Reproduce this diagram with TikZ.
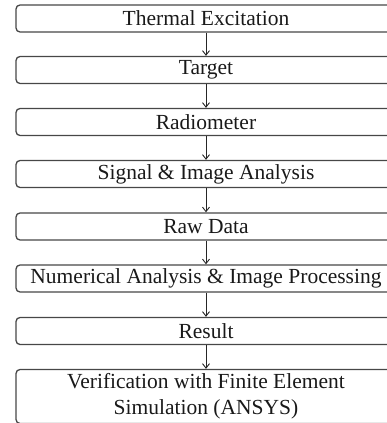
\documentclass[tikz,border=0pt]{standalone}
\usepackage{fontspec}
\setmainfont{Liberation Serif}
\usetikzlibrary{arrows.meta}

\tikzset{
  stage/.style={draw=black!72, line width=1.3pt, rounded corners=4pt,
    minimum width=380pt, inner sep=0pt, align=center,
    font=\fontsize{21.5pt}{26pt}\selectfont, text=black!90},
  flow/.style={draw=black!85, line width=0.9pt,
    -{Straight Barb[length=4.5pt,width=7pt,line width=0.9pt]}}
}

\begin{document}
\begin{tikzpicture}[x=1pt, y=-1pt]
  \useasboundingbox (0,0) rectangle (387,423);
  \clip (0,0) rectangle (387,423);

  % process stages, top to bottom
  \node[stage, minimum height=27pt] (s1) at (206,18.5)  {Thermal Excitation};
  \node[stage, minimum height=27pt] (s2) at (206,70)    {Target};
  \node[stage, minimum height=27pt] (s3) at (206,122)   {Radiometer};
  \node[stage, minimum height=27pt] (s4) at (206,174)   {Signal \& Image Analysis};
  \node[stage, minimum height=27pt] (s5) at (206,226.5) {Raw Data};
  \node[stage, minimum height=27pt] (s6) at (206,278.5) {Numerical Analysis \& Image Processing};
  \node[stage, minimum height=27pt] (s7) at (206,331)   {Result};
  \node[stage, minimum height=54pt] (s8) at (206,396.5) {Verification with Finite Element\\Simulation (ANSYS)};

  % connectors between stages
  \foreach \a/\b in {s1/s2, s2/s3, s3/s4, s4/s5, s5/s6, s6/s7, s7/s8}
    \draw[flow] (\a.south) -- (\b.north);
\end{tikzpicture}
\end{document}
